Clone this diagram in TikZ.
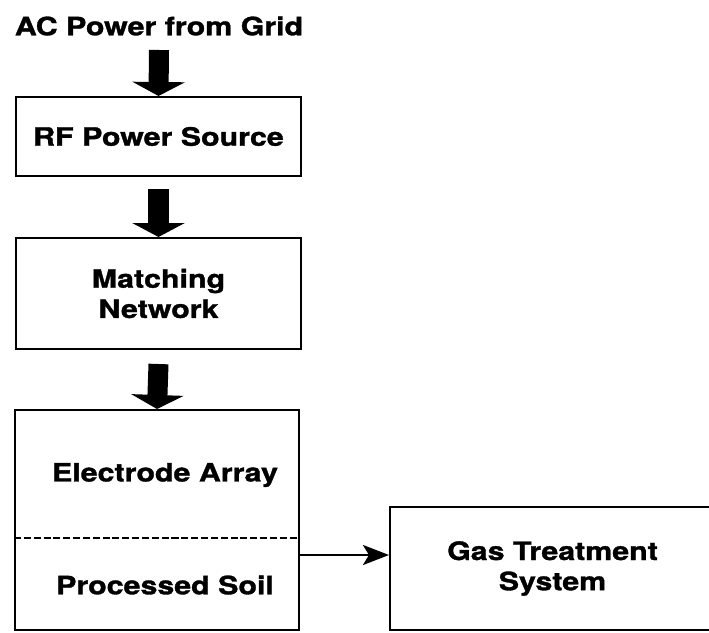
\documentclass[tikz,border=0pt]{standalone}
\usepackage{fontspec}
\setmainfont{TeX Gyre Heros}[FakeStretch=1.2, BoldFeatures={FakeBold=1.3}]
\usetikzlibrary{positioning, arrows.meta}

\begin{document}
\begin{tikzpicture}[x=0.025cm, y=-0.025cm,
    font=\fontsize{18}{21.5}\selectfont\bfseries,
    block/.style={draw, line width=1.4pt, inner sep=0pt, align=center},
    bigarrow/.style={line width=0.5cm, -{Triangle[length=0.35cm, width=1.3cm]}},
    flow/.style={line width=1.8pt, -{Stealth[length=0.65cm, width=0.5cm, inset=0.15cm]}}]
  \useasboundingbox (0,0) rectangle (709,632);

  \node (grid) at (159,26) {AC Power from Grid};
  \node[block, minimum width=7.125cm, minimum height=1.975cm] (rf) at (158.5,136.5) {RF Power Source};
  \node[block, minimum width=7.125cm, minimum height=2.775cm] (match) at (158.5,293.5) {Matching\\Network};
  \node[block, minimum width=7.1cm, minimum height=5.5cm] (elec) at (157,520) {};
  \node (electrode) at (165,475) {Electrode Array};
  \node (soil) at (165,585) {Processed Soil};
  \node[block, minimum width=8.125cm, minimum height=3.075cm] (gas) at (552.5,568.5) {Gas Treatment\\System};

  % Power chain
  \draw[bigarrow] (grid.south |- 0,50) -- (rf.north);
  \draw[bigarrow] ([yshift=-0.3cm]rf.south) -- (match.north);
  \draw[bigarrow] ([yshift=-0.35cm]match.south) -- (elec.north);
  % Electrode / soil boundary
  \draw[line width=0.8pt, dash pattern=on 5pt off 2pt] (elec.west |- 0,538) -- (elec.east |- 0,538);
  % Off-gas
  \draw[flow] (elec.east |- 0,555) -- (gas.west |- 0,555);
\end{tikzpicture}
\end{document}
